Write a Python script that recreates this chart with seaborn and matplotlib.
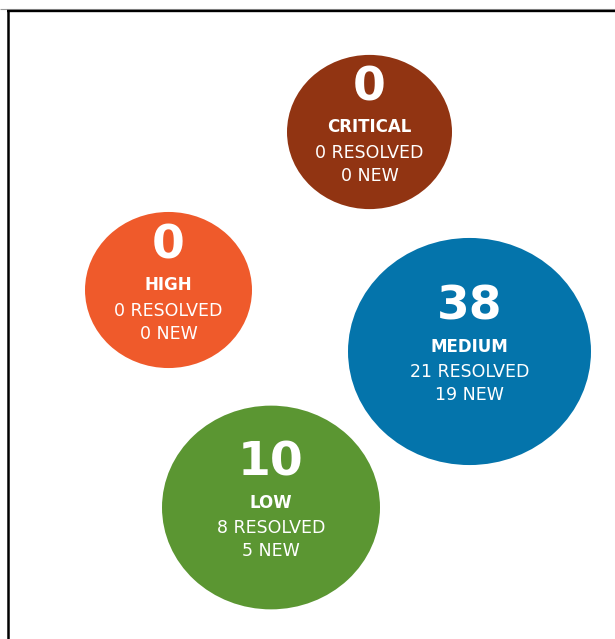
import matplotlib
matplotlib.use("Agg")
import matplotlib.pyplot as plt
import seaborn as sns
import pandas as pd
import numpy as np
from matplotlib.path import Path
from matplotlib.transforms import Affine2D

# ---- data ----
severity = ["CRITICAL", "HIGH", "MEDIUM", "LOW"]
totals = [0, 0, 38, 10]
resolved = [0, 0, 21, 8]
new = [0, 0, 19, 5]

# ---- layout / style (pixel coordinates of bubble centres, bubble widths) ----
bubble_x = [369.5, 168.5, 469.5, 271]
bubble_y = [132, 290, 351.5, 507.5]
bubble_width_px = [165, 167, 243, 218]
colors = {"CRITICAL": "#913412", "HIGH": "#EF5A2B", "MEDIUM": "#0474AB", "LOW": "#5B9632"}

sns.set_theme(style="white")
plt.rcParams["font.family"] = ["DejaVu Sans"]

df = pd.DataFrame({"severity": severity, "total": totals, "resolved": resolved,
                   "new": new, "x": bubble_x, "y": bubble_y})

dpi = 100
fig = plt.figure(figsize=(6.15, 6.39), dpi=dpi)
ax = fig.add_axes([0, 0, 1, 1])
ax.set_xlim(0, 615)
ax.set_ylim(639, 0)
ax.axis("off")

# slightly wide ellipse marker (reference is horizontally stretched)
ellipse = Path.unit_circle().transformed(Affine2D().scale(1.07, 1.0))
pt = 72.0 / dpi
size_map = {s: (w * pt) ** 2 for s, w in zip(severity, bubble_width_px)}

sns.scatterplot(data=df, x="x", y="y", hue="severity", palette=colors,
                size="severity", sizes=size_map, marker=ellipse,
                linewidth=0, legend=False, ax=ax, alpha=1)

for _, r in df.iterrows():
    cx, cy = r["x"], r["y"]
    ax.text(cx, cy - 44, f"{r['total']}", ha="center", va="center", color="white",
            fontsize=34, fontweight="bold")
    ax.text(cx, cy - 5, r["severity"], ha="center", va="center", color="white",
            fontsize=12, fontweight="bold")
    ax.text(cx, cy + 20.5, f"{r['resolved']} RESOLVED", ha="center", va="center",
            color="white", fontsize=12.5)
    ax.text(cx, cy + 44, f"{r['new']} NEW", ha="center", va="center",
            color="white", fontsize=12.5)

# frame (left and top edges visible)
ax.plot([0, 615], [9, 9], color="#9a9a9a", lw=0.8, solid_capstyle="butt")
ax.plot([7, 615], [11.3, 11.3], color="black", lw=1.7, solid_capstyle="butt")
ax.plot([8, 8], [10.5, 639], color="black", lw=1.8, solid_capstyle="butt")

fig.savefig("out.png", dpi=dpi)
